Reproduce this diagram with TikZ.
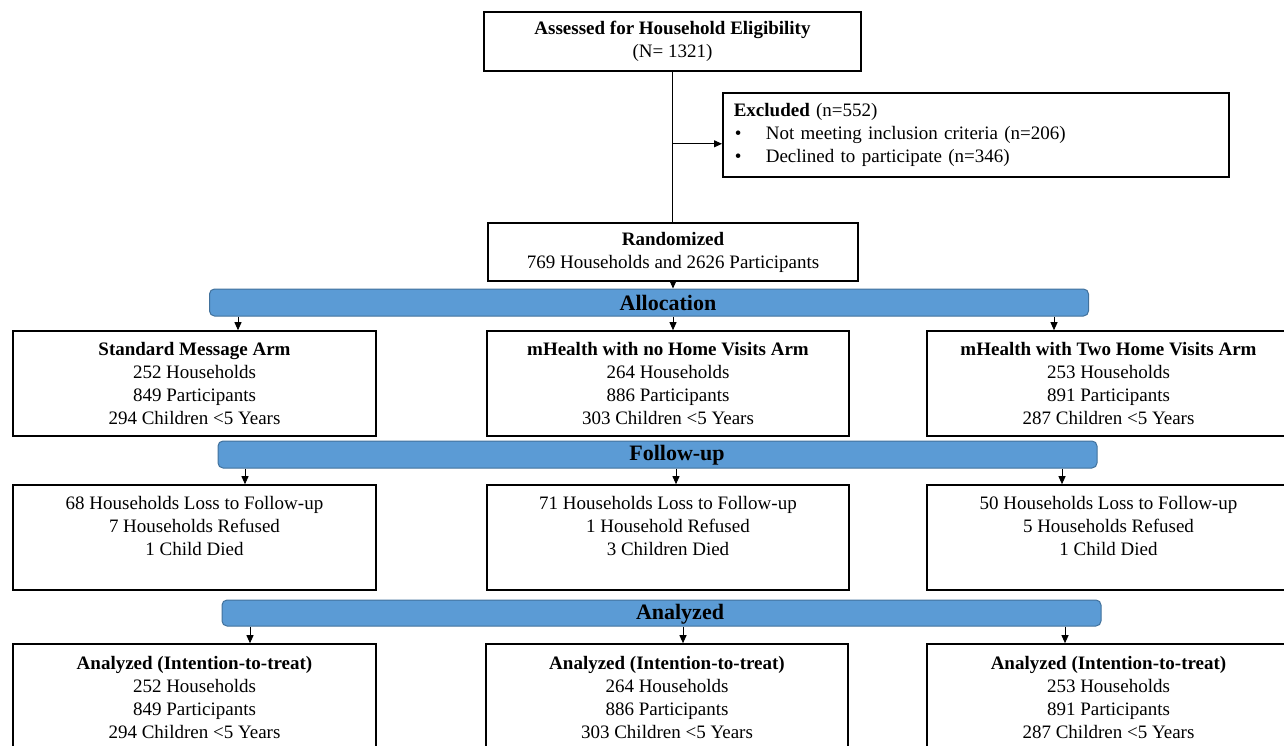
\documentclass[tikz,border=0pt]{standalone}
\usepackage{fontspec}
\setmainfont{Liberation Serif}
\usetikzlibrary{arrows.meta}

\definecolor{barfill}{RGB}{91,155,213}
\definecolor{barline}{RGB}{65,113,156}

\tikzset{
  box/.style={draw, line width=1.6pt, fill=white, align=center, inner sep=0pt,
    font=\fontsize{19}{23}\selectfont},
  armbox/.style={box, minimum width=363pt, minimum height=105pt},
  bar/.style={draw=barline, fill=barfill, line width=1pt, rounded corners=5pt,
    inner sep=0pt, minimum width=879pt},
  barlabel/.style={inner sep=0pt, font=\bfseries\fontsize{22}{26}\selectfont},
  arr/.style={-{Triangle[length=8pt,width=7pt]}, line width=0.9pt},
}

\begin{document}
\begin{tikzpicture}[x=1pt,y=-1pt]
\useasboundingbox (0,0) rectangle (1284,746);

% enrolment
\node[box, minimum width=377pt, minimum height=59pt] (elig) at (672.5,41.5)
  {\textbf{Assessed for Household Eligibility}\\(N= 1321)};
\node[box, align=left, anchor=west, text width=484pt, inner xsep=11pt,
  minimum height=84pt] (excl) at (722,135)
  {\textbf{Excluded} (n=552)\\
   \makebox[32pt][l]{\hspace{1pt}\textbullet}Not meeting inclusion criteria (n=206)\\
   \makebox[32pt][l]{\hspace{1pt}\textbullet}Declined to participate (n=346)};
\node[box, minimum width=370pt, minimum height=58pt] (rand) at (673,252)
  {\textbf{Randomized}\\769 Households and 2626 Participants};
\draw[line width=0.9pt] (elig.south) -- (elig.south |- rand.north);
\path (elig.south) ++(0,72) coordinate (split);
\draw[arr] (split) -- (split -| excl.west);

% allocation
\node[bar, minimum height=27pt] (alloc) at (649,302.5) {};
\node[barlabel] (alloclbl) at (668,303) {Allocation};
\draw[arr] (rand.south) -- (rand.south |- alloc.north);

\node[armbox] (std) at (194.5,383.5)
  {\textbf{Standard Message Arm}\\252 Households\\849 Participants\\294 Children <5 Years};
\node[armbox, minimum width=362pt] (nohv) at (668,383.5)
  {\textbf{mHealth with no Home Visits Arm}\\264 Households\\886 Participants\\303 Children <5 Years};
\node[armbox] (twohv) at (1108.5,383.5)
  {\textbf{mHealth with Two Home Visits Arm}\\253 Households\\891 Participants\\287 Children <5 Years};
\foreach \x/\b in {238/std,673/nohv,1054/twohv}
  \draw[arr] (alloc.south -| \x,0) -- (\x,0 |- \b.north);

% follow-up
\node[bar, minimum height=27pt] (fup) at (657.5,454.5) {};
\node[barlabel] (fuplbl) at (677,455) {Follow-up};

\node[armbox] (stdfu) at (194.5,537.5)
  {68 Households Loss to Follow-up\\7 Households Refused\\1 Child Died\\\mbox{}};
\node[armbox, minimum width=362pt] (nohvfu) at (668,537.5)
  {71 Households Loss to Follow-up\\1 Household Refused\\3 Children Died\\\mbox{}};
\node[armbox] (twohvfu) at (1108.5,537.5)
  {50 Households Loss to Follow-up\\5 Households Refused\\1 Child Died\\\mbox{}};
\foreach \x/\b in {245/stdfu,676/nohvfu,1062/twohvfu}
  \draw[arr] (fup.south -| \x,0) -- (\x,0 |- \b.north);

% analysis
\node[bar, minimum height=26pt] (anl) at (661.5,613) {};
\node[barlabel] (anllbl) at (680,614) {Analyzed};

\node[armbox, minimum height=106pt] (stdan) at (194.5,697)
  {\textbf{Analyzed (Intention-to-treat)}\\252 Households\\849 Participants\\294 Children <5 Years};
\node[armbox, minimum width=362pt, minimum height=106pt] (nohvan) at (667,697)
  {\textbf{Analyzed (Intention-to-treat)}\\264 Households\\886 Participants\\303 Children <5 Years};
\node[armbox, minimum height=106pt] (twohvan) at (1108.5,697)
  {\textbf{Analyzed (Intention-to-treat)}\\253 Households\\891 Participants\\287 Children <5 Years};
\foreach \x/\b in {250/stdan,683/nohvan,1065/twohvan}
  \draw[arr] (anl.south -| \x,0) -- (\x,0 |- \b.north);
\end{tikzpicture}
\end{document}
